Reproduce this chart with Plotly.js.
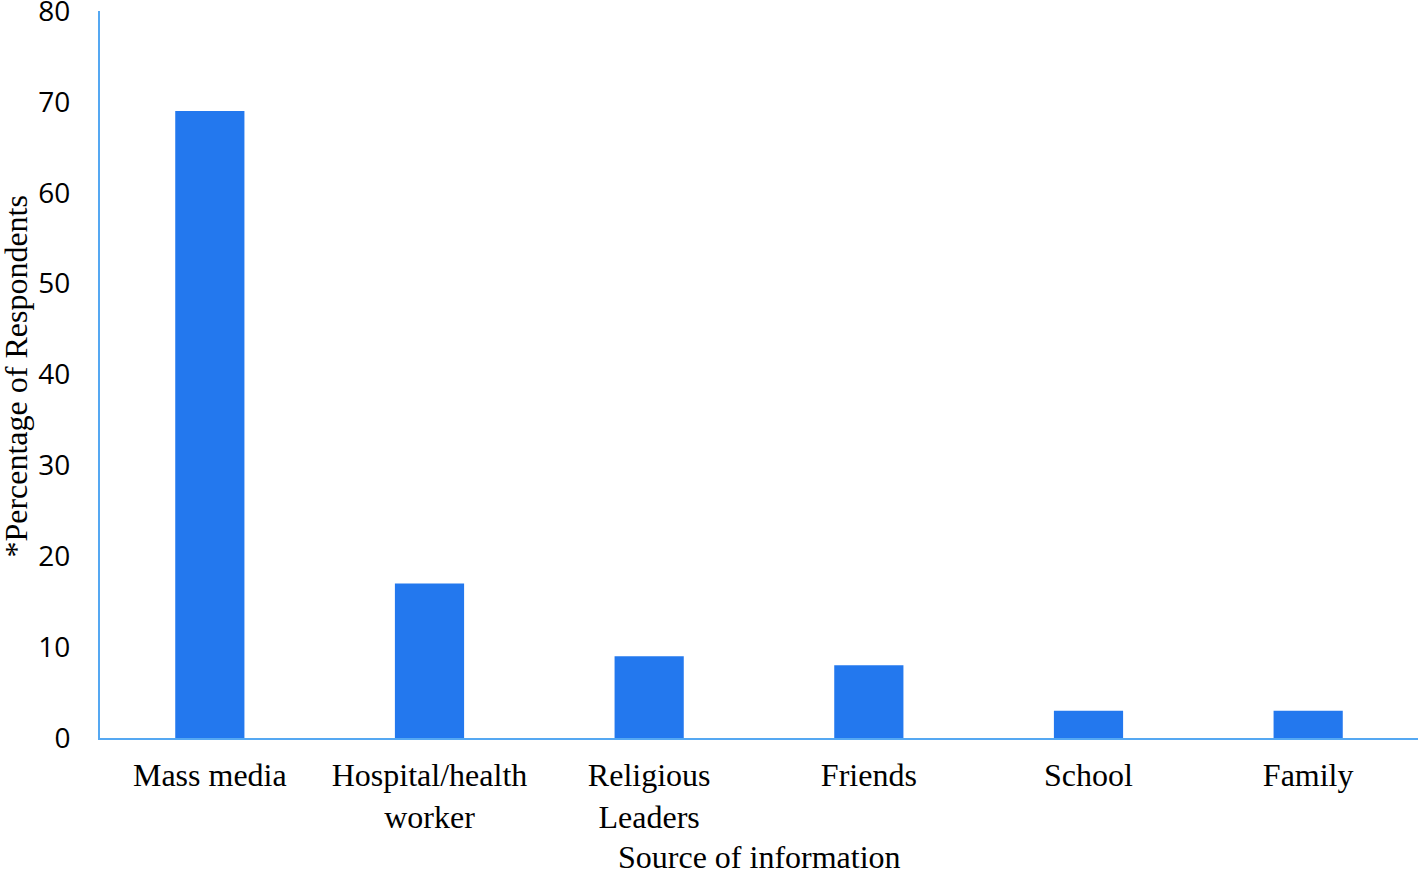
<!DOCTYPE html>
<html>
<head>
<meta charset="utf-8">
<script src="https://cdn.plot.ly/plotly-3.0.1.min.js"></script>
<style>
  html, body { margin: 0; padding: 0; background: #fff; }
  #chart { width: 1418px; height: 870px; }
</style>
</head>
<body>
<div id="chart"></div>
<script>
const sources = ['Mass media', 'Hospital/health<br>worker', 'Religious<br>Leaders', 'Friends', 'School', 'Family'];
const percentages = [69, 17, 9, 8, 3, 3];
const yTicks = [0, 10, 20, 30, 40, 50, 60, 70, 80];

const serif = 'Liberation Serif, Times New Roman, serif';
const axisBlue = '#55a8f2';
const titleFont = { family: serif, size: 32, color: '#000' };

const trace = {
  x: sources,
  y: percentages,
  type: 'bar',
  marker: { color: '#2378ee' },
  hoverinfo: 'x+y'
};

const layout = {
  width: 1418,
  height: 870,
  margin: { l: 100, r: 0, t: 11, b: 132 },
  paper_bgcolor: '#fff',
  plot_bgcolor: '#fff',
  bargap: 0.685,
  showlegend: false,
  xaxis: {
    showline: true,
    linecolor: axisBlue,
    linewidth: 2,
    showgrid: false,
    zeroline: false,
    ticks: '',
    ticklabelstandoff: 8,
    tickfont: { family: serif, size: 32, color: '#000' }
  },
  yaxis: {
    range: [0, 80],
    tickvals: yTicks,
    showline: true,
    linecolor: axisBlue,
    linewidth: 2,
    showgrid: false,
    zeroline: false,
    ticks: 'outside',
    ticklen: 22,
    tickcolor: 'rgba(0,0,0,0)',
    ticklabeloverflow: 'allow',
    tickfont: { family: 'Open Sans, sans-serif', size: 28, color: '#000' }
  },
  // axis titles as annotations so they sit where the original puts them
  annotations: [
    {
      text: 'Source of information', font: titleFont, showarrow: false,
      xref: 'paper', yref: 'paper', x: 0.5, y: -0.163,
      xanchor: 'center', yanchor: 'middle'
    },
    {
      text: '*Percentage of Respondents', font: titleFont, showarrow: false,
      xref: 'paper', yref: 'paper', x: -0.064, y: 0.498, textangle: -90,
      xanchor: 'center', yanchor: 'middle'
    }
  ]
};

Plotly.newPlot('chart', [trace], layout, { displayModeBar: false });
</script>
</body>
</html>
